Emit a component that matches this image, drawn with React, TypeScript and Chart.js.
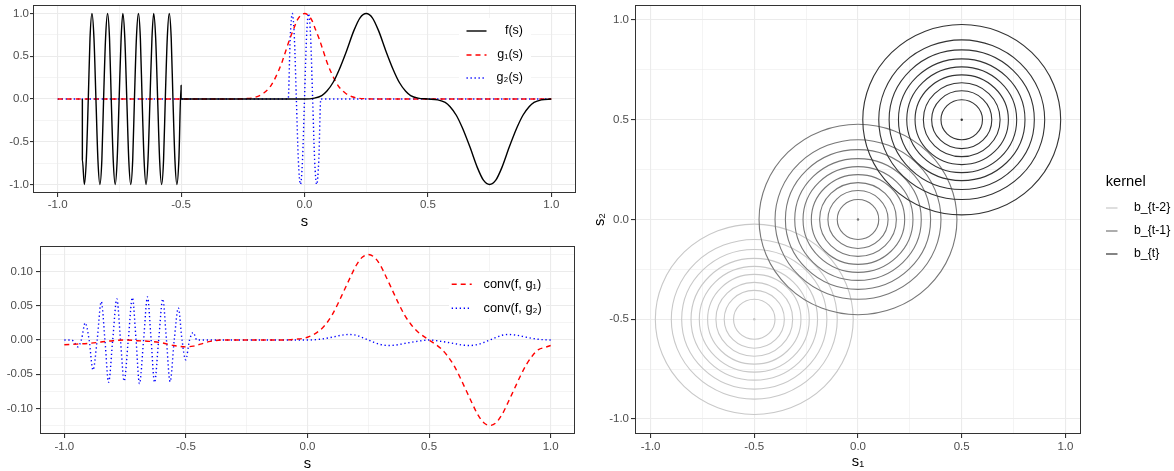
import React, { useEffect, useRef } from "react";
import { Chart, registerables } from "chart.js";

Chart.register(...registerables);

const FONT = "'Liberation Sans', Arial, Helvetica, sans-serif";

// ---------------- Top-left panel: f(s), g1(s), g2(s) ----------------
const fS = [
  -0.9, -0.9, -0.892, -0.884, -0.876, -0.869, -0.861, -0.853, -0.845, -0.837, -0.829, -0.821, -0.814,
  -0.806, -0.798, -0.79, -0.783, -0.775, -0.767, -0.759, -0.751, -0.743, -0.736, -0.728, -0.72, -0.712,
  -0.704, -0.696, -0.689, -0.681, -0.673, -0.665, -0.658, -0.65, -0.642, -0.634, -0.626, -0.618, -0.611,
  -0.603, -0.595, -0.587, -0.579, -0.571, -0.564, -0.556, -0.548, -0.54, -0.533, -0.525, -0.517, -0.509,
  -0.5, -0.5, 0.0, 0.04, 0.07, 0.09, 0.115, 0.14, 0.17, 0.2, 0.225, 0.25, 0.275, 0.3, 0.33, 0.36, 0.385,
  0.41, 0.43, 0.46, 0.5, 0.54, 0.57, 0.59, 0.615, 0.64, 0.67, 0.7, 0.725, 0.75, 0.775, 0.8, 0.83, 0.86,
  0.885, 0.91, 0.93, 0.96, 1.0,
];
const fV = [
  0, -0.71, -1, -0.71, 0, 0.71, 1, 0.71, 0, -0.71, -1, -0.71, 0,
  0.71, 1, 0.71, 0, -0.71, -1, -0.71, 0, 0.71, 1, 0.71, 0, -0.71,
  -1, -0.71, 0, 0.71, 1, 0.71, 0, -0.71, -1, -0.71, 0, 0.71, 1,
  0.71, 0, -0.71, -1, -0.71, 0, 0.71, 1, 0.71, 0, -0.71, -1, -0.71,
  0.16, 0, 0, 0.01, 0.04, 0.09, 0.19, 0.34, 0.56, 0.8, 0.95, 1, 0.95, 0.8, 0.56, 0.34, 0.19,
  0.09, 0.04, 0.01, 0, -0.01, -0.04, -0.09, -0.19, -0.34, -0.56, -0.8, -0.95, -1, -0.95, -0.8, -0.56, -0.34,
  -0.19, -0.09, -0.04, -0.01, 0,
];
const g1S = [
  -1, -0.3, -0.25, -0.2, -0.165, -0.14, -0.125, -0.105, -0.09, -0.075, -0.06, -0.045, -0.03, -0.015, 0,
  0.015, 0.03, 0.045, 0.06, 0.075, 0.09, 0.105, 0.125, 0.14, 0.165, 0.2, 0.25, 0.3, 1,
];
const g1V = [
  0, 0, 0.003, 0.02, 0.07, 0.14, 0.21, 0.33, 0.44, 0.57, 0.7, 0.81, 0.92, 0.98, 1,
  0.98, 0.92, 0.81, 0.7, 0.57, 0.44, 0.33, 0.21, 0.14, 0.07, 0.02, 0.003, 0, 0,
];
const g2S = [
  -1, -0.066, -0.058, -0.0495, -0.041, -0.033, -0.025, -0.0165, -0.008, 0, 0.008, 0.0165, 0.025, 0.033,
  0.041, 0.0495, 0.058, 0.066, 1,
];
const g2V = [0, 0, 0.71, 1, 0.71, 0, -0.71, -1, -0.71, 0, 0.71, 1, 0.71, 0, -0.71, -1, -0.71, 0, 0];

// ---------------- Bottom-left panel: conv(f, g1), conv(f, g2) ----------------
const c1S = [
  -1, -0.95, -0.9, -0.85, -0.8, -0.75, -0.7, -0.65, -0.6, -0.55, -0.5, -0.47, -0.44, -0.4, -0.35, -0.1,
  -0.05, 0, 0.05, 0.075, 0.1, 0.125, 0.15, 0.175, 0.2, 0.225, 0.25, 0.275, 0.3, 0.325, 0.35, 0.375, 0.4,
  0.425, 0.45, 0.475, 0.5, 0.525, 0.55, 0.575, 0.6, 0.625, 0.65, 0.675, 0.7, 0.725, 0.75, 0.775, 0.8,
  0.825, 0.85, 0.875, 0.9, 0.925, 0.95, 0.975, 1,
];
const c1V = [
  -0.007, -0.006, -0.005, -0.003, -0.001, 0, -0.001, -0.002, -0.004, -0.008, -0.01, -0.009, -0.006, -0.002, 0, 0,
  0.001, 0.004, 0.014, 0.023, 0.036, 0.053, 0.072, 0.091, 0.109, 0.121, 0.125, 0.121, 0.109, 0.091, 0.072, 0.053, 0.036,
  0.023, 0.013, 0.006, 0, -0.006, -0.013, -0.023, -0.036, -0.053, -0.072, -0.091, -0.109, -0.121, -0.125, -0.121, -0.109,
  -0.091, -0.072, -0.053, -0.036, -0.023, -0.014, -0.011, -0.008,
];
const c2S = [
  -1, -0.97, -0.958, -0.945, -0.93, -0.914, -0.898, -0.882, -0.865, -0.848, -0.833, -0.818, -0.801, -0.784,
  -0.769, -0.754, -0.737, -0.72, -0.705, -0.691, -0.674, -0.658, -0.643, -0.629, -0.612, -0.595, -0.58, -0.565,
  -0.548, -0.531, -0.516, -0.501, -0.485, -0.47, -0.455, -0.44, 0, 0.05, 0.1, 0.14, 0.17, 0.2, 0.23, 0.25, 0.27,
  0.3, 0.33, 0.36, 0.4, 0.45, 0.5, 0.55, 0.6, 0.64, 0.67, 0.7, 0.73, 0.75, 0.77, 0.8, 0.83, 0.86, 0.9, 0.95, 1,
];
const c2V = [
  0, 0, -0.004, -0.01, 0, 0.025, 0, -0.044, 0, 0.056, 0, -0.062, 0, 0.06,
  0, -0.06, 0, 0.062, 0, -0.064, 0, 0.063, 0, -0.062, 0, 0.06, 0, -0.061,
  0, 0.047, 0, -0.029, 0, 0.011, 0, 0, 0, 0.001, 0.004, 0.007, 0.008, 0.007, 0.003, 0, -0.003,
  -0.0065, -0.008, -0.0075, -0.005, -0.002, 0, -0.002, -0.005, -0.0075, -0.008, -0.0065, -0.003, 0, 0.003, 0.007, 0.008,
  0.007, 0.004, 0.001, 0,
];

// ---------------- Right panel: kernel contours ----------------
const kernelLabels = ["b_{t-2}", "b_{t-1}", "b_{t}"];
const kernelCenterX = [-0.5, 0, 0.5];
const kernelCenterY = [-0.5, 0, 0.5];
const kernelColors = ["#c8c8c8", "#777777", "#333333"];
const contourRadii = [0.1, 0.145, 0.185, 0.225, 0.265, 0.305, 0.35, 0.4, 0.477];

// ---------------- Ticks ----------------
const unitMajor = [-1, -0.5, 0, 0.5, 1];
const unitMinor = [-0.75, -0.25, 0.25, 0.75];
const unitLabels = ["-1.0", "-0.5", "0.0", "0.5", "1.0"];
const convMajor = [-0.1, -0.05, 0, 0.05, 0.1];
const convMinor = [-0.125, -0.075, -0.025, 0.025, 0.075, 0.125];
const convLabels = ["-0.10", "-0.05", "0.00", "0.05", "0.10"];

function makeAxis(c: any) {
  const all = [...c.major, ...c.minor].sort((a: number, b: number) => a - b);
  const isMajor = (v: number) => c.major.some((m: number) => Math.abs(m - v) < 1e-9);
  return {
    type: "linear",
    min: c.min,
    max: c.max,
    afterBuildTicks: (scale: any) => {
      scale.ticks = all.map((v: number) => ({ value: v }));
    },
    afterFit: (scale: any) => {
      if (c.horizontal) scale.height = c.size;
      else scale.width = c.size;
      scale.paddingTop = 0;
      scale.paddingBottom = 0;
      scale.paddingLeft = 0;
      scale.paddingRight = 0;
    },
    ticks: {
      autoSkip: false,
      maxRotation: 0,
      minRotation: 0,
      padding: c.padding,
      color: "#4d4d4d",
      font: { family: FONT, size: 11.5, lineHeight: 1.2 },
      callback: (v: number) => {
        const i = c.major.findIndex((m: number) => Math.abs(m - v) < 1e-9);
        return i >= 0 ? c.labels[i] : "";
      },
    },
    grid: {
      color: "#ebebeb",
      lineWidth: (ctx: any) => (ctx.tick && isMajor(ctx.tick.value) ? 1.1 : 0.55),
      tickColor: (ctx: any) => (ctx.tick && isMajor(ctx.tick.value) ? "#333333" : "rgba(0,0,0,0)"),
      tickWidth: 1.1,
      tickLength: c.tickLength,
      drawTicks: true,
    },
    border: { display: false },
    title: c.title
      ? {
          display: true,
          text: c.title.text,
          color: "#000000",
          font: { family: FONT, size: 14.7, lineHeight: c.title.lineHeight },
          padding: { top: c.title.pad, bottom: c.title.pad },
        }
      : { display: false },
  };
}

function lineDs(label: string, xs: number[], ys: number[], color: string, dash: number[], width: number) {
  return {
    label,
    data: xs.map((x, i) => ({ x, y: ys[i] })),
    borderColor: color,
    backgroundColor: color,
    borderWidth: width,
    borderDash: dash,
    pointRadius: 0,
    cubicInterpolationMode: "monotone",
    fill: false,
  };
}

const panelBorder = {
  id: "panelBorder",
  afterDraw(chart: any) {
    const { ctx, chartArea: a } = chart;
    ctx.save();
    ctx.strokeStyle = "#333333";
    ctx.lineWidth = 1;
    const l = Math.round(a.left) + 0.5;
    const t = Math.round(a.top) + 0.5;
    const r = Math.round(a.right) - 0.5;
    const b = Math.round(a.bottom) - 0.5;
    ctx.strokeRect(l, t, r - l, b - t);
    ctx.restore();
  },
};

function makeLegend(cfg: any) {
  return {
    id: "customLegend",
    afterDraw(chart: any) {
      const ctx = chart.ctx;
      ctx.save();
      if (cfg.bg) {
        ctx.fillStyle = "#ffffff";
        ctx.fillRect(cfg.bg[0], cfg.bg[1], cfg.bg[2], cfg.bg[3]);
      }
      if (cfg.title) {
        ctx.fillStyle = "#000000";
        ctx.font = `14.7px ${FONT}`;
        ctx.textAlign = "left";
        ctx.textBaseline = "middle";
        ctx.fillText(cfg.title.text, cfg.title.x, cfg.title.y);
      }
      chart.data.datasets.forEach((ds: any, i: number) => {
        const y = cfg.rows[i];
        ctx.beginPath();
        ctx.setLineDash(ds.borderDash || []);
        ctx.strokeStyle = ds.borderColor;
        ctx.lineWidth = cfg.lineWidth || ds.borderWidth;
        ctx.moveTo(cfg.x0, y);
        ctx.lineTo(cfg.x1, y);
        ctx.stroke();
        ctx.setLineDash([]);
        ctx.fillStyle = "#000000";
        ctx.font = `${cfg.fontSize}px ${FONT}`;
        ctx.textAlign = cfg.align;
        ctx.textBaseline = "middle";
        ctx.fillText(ds.label, cfg.textX, y);
      });
      ctx.restore();
    },
  };
}

const contourPlugin = {
  id: "contours",
  beforeDatasetsDraw(chart: any) {
    const { ctx, chartArea: a, scales } = chart;
    const xs = scales.x;
    const ys = scales.y;
    ctx.save();
    ctx.beginPath();
    ctx.rect(a.left, a.top, a.right - a.left, a.bottom - a.top);
    ctx.clip();
    chart.data.datasets.forEach((ds: any) => {
      ds.data.forEach((pt: any) => {
        const cx = xs.getPixelForValue(pt.x);
        const cy = ys.getPixelForValue(pt.y);
        ds.radii.forEach((r: number) => {
          const rx = Math.abs(xs.getPixelForValue(pt.x + r) - cx);
          const ry = Math.abs(ys.getPixelForValue(pt.y + r) - cy);
          ctx.beginPath();
          ctx.ellipse(cx, cy, rx, ry, 0, 0, Math.PI * 2);
          ctx.strokeStyle = ds.borderColor;
          ctx.lineWidth = 1.1;
          ctx.stroke();
        });
      });
    });
    ctx.restore();
  },
};

const baseOptions = {
  responsive: false,
  animation: false,
  devicePixelRatio: 1,
  events: [],
};

export default function App() {
  const r1 = useRef<HTMLCanvasElement>(null);
  const r2 = useRef<HTMLCanvasElement>(null);
  const r3 = useRef<HTMLCanvasElement>(null);

  useEffect(() => {
    const charts: any[] = [];

    charts.push(
      new Chart(r1.current as any, {
        type: "line",
        data: {
          datasets: [
            lineDs("f(s)", fS, fV, "#000000", [], 1.4),
            lineDs("g\u2081(s)", g1S, g1V, "#ff0000", [5, 4], 1.4),
            lineDs("g\u2082(s)", g2S, g2V, "#0000ff", [1.3, 2.7], 1.4),
          ],
        } as any,
        options: {
          ...baseOptions,
          layout: { padding: { left: 0, top: 5, right: 14, bottom: 0 } },
          plugins: { legend: { display: false }, tooltip: { enabled: false } },
          scales: {
            x: makeAxis({
              min: -1.1, max: 1.1, major: unitMajor, minor: unitMinor, labels: unitLabels,
              horizontal: true, size: 42, tickLength: 4, padding: 1,
              title: { text: "s", lineHeight: 1.2, pad: 4.5 },
            }),
            y: makeAxis({
              min: -1.1, max: 1.1, major: unitMajor, minor: unitMinor, labels: unitLabels,
              horizontal: false, size: 33, tickLength: 3, padding: 1,
            }),
          },
        } as any,
        plugins: [
          makeLegend({ bg: [459, 18, 72, 73], rows: [31, 55, 78], x0: 466.5, x1: 486.5, textX: 523, align: "right", fontSize: 12.5 }),
          panelBorder,
        ] as any,
      })
    );

    charts.push(
      new Chart(r2.current as any, {
        type: "line",
        data: {
          datasets: [
            lineDs("conv(f, g\u2081)", c1S, c1V, "#ff0000", [5, 4], 1.4),
            lineDs("conv(f, g\u2082)", c2S, c2V, "#0000ff", [1.3, 2.7], 1.4),
          ],
        } as any,
        options: {
          ...baseOptions,
          layout: { padding: { left: 0, top: 11, right: 15, bottom: 0 } },
          plugins: { legend: { display: false }, tooltip: { enabled: false } },
          scales: {
            x: makeAxis({
              min: -1.1, max: 1.1, major: unitMajor, minor: unitMinor, labels: unitLabels,
              horizontal: true, size: 37, tickLength: 4, padding: 2,
              title: { text: "s", lineHeight: 1.0, pad: 0 },
            }),
            y: makeAxis({
              min: -0.1375, max: 0.1375, major: convMajor, minor: convMinor, labels: convLabels,
              horizontal: false, size: 40, tickLength: 4, padding: 3,
            }),
          },
        } as any,
        plugins: [
          makeLegend({ bg: [449, 37, 97, 46], rows: [49.3, 73.3], x0: 451.7, x1: 471.7, textX: 483.5, align: "left", fontSize: 12.8 }),
          panelBorder,
        ] as any,
      })
    );

    charts.push(
      new Chart(r3.current as any, {
        type: "scatter",
        data: {
          datasets: kernelLabels.map((lab, i) => ({
            label: lab,
            data: [{ x: kernelCenterX[i], y: kernelCenterY[i] }],
            radii: contourRadii,
            borderColor: kernelColors[i],
            backgroundColor: kernelColors[i],
            borderWidth: 1.1,
            pointRadius: 1.2,
            pointBorderWidth: 0,
            showLine: false,
          })),
        } as any,
        options: {
          ...baseOptions,
          layout: { padding: { left: 0, top: 5, right: 93, bottom: 0 } },
          plugins: { legend: { display: false }, tooltip: { enabled: false } },
          scales: {
            x: makeAxis({
              min: -1.075, max: 1.075, major: unitMajor, minor: unitMinor, labels: unitLabels,
              horizontal: true, size: 37, tickLength: 4, padding: 1.5,
              title: { text: "s\u2081", lineHeight: 1.2, pad: 0.5 },
            }),
            y: makeAxis({
              min: -1.075, max: 1.075, major: unitMajor, minor: unitMinor, labels: unitLabels,
              horizontal: false, size: 45, tickLength: 4, padding: 2,
              title: { text: "s\u2082", lineHeight: 1.2, pad: 1.6 },
            }),
          },
        } as any,
        plugins: [
          contourPlugin,
          makeLegend({
            title: { text: "kernel", x: 515.7, y: 182 },
            rows: [208, 231, 254], x0: 516, x1: 527.5, textX: 544, align: "left", lineWidth: 1.2, fontSize: 12.3,
          }),
          panelBorder,
        ] as any,
      })
    );

    return () => charts.forEach((c) => c.destroy());
  }, []);

  return (
    <div
      style={{
        position: "fixed",
        left: 0,
        top: 0,
        width: 1174,
        height: 471,
        background: "#ffffff",
        overflow: "hidden",
      }}
    >
      <canvas ref={r1} width={590} height={235} style={{ position: "absolute", left: 0, top: 0, width: 590, height: 235 }} />
      <canvas ref={r2} width={590} height={236} style={{ position: "absolute", left: 0, top: 235, width: 590, height: 236 }} />
      <canvas ref={r3} width={584} height={471} style={{ position: "absolute", left: 590, top: 0, width: 584, height: 471 }} />
    </div>
  );
}
